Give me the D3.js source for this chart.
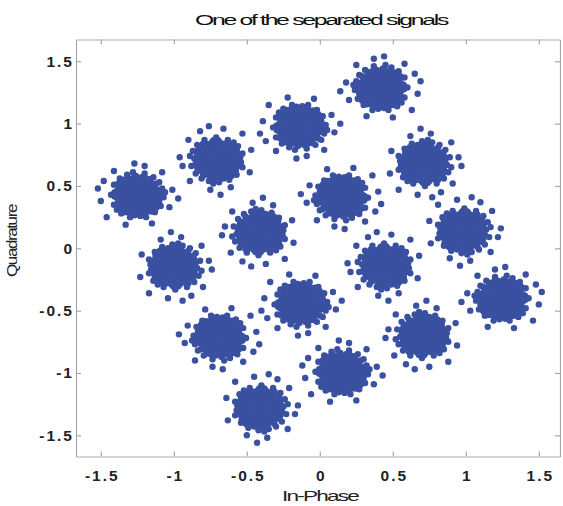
<!DOCTYPE html>
<html>
<head>
<meta charset="utf-8">
<script src="https://cdn.jsdelivr.net/npm/d3@7"></script>
<style>
  html, body { margin: 0; padding: 0; background: #fff; }
  svg { display: block; }
</style>
</head>
<body>
<svg id="chart" width="563" height="506"></svg>
<script>
// Received symbol clusters: centre of each cluster (in-phase, quadrature)
const clusterI = [0.42, -0.14, -0.70, 0.71, -1.25, 0.15, -0.41, 0.98, -1.00, 0.45, -0.13, 1.25, -0.685, 0.71, 0.15, -0.41];
const clusterQ = [1.28, 0.98, 0.71, 0.68, 0.42, 0.415, 0.125, 0.14, -0.15, -0.14, -0.44, -0.41, -0.71, -0.70, -1.00, -1.28];
// orientation of the shared noise pattern for each cluster (bit0 mirror I, bit1 mirror Q, bit2 swap)
const clusterOrient = [0, 3, 5, 6, 1, 2, 7, 4, 6, 5, 3, 0, 2, 7, 1, 4];

// Noise samples around a cluster centre (I offset, Q offset)
const noiseI = [
  -0.03, 0.01, 0.05,
  -0.08, -0.04, 0.00, 0.04, 0.08,
  -0.11, -0.075, -0.04, -0.005, 0.03, 0.065, 0.10,
  -0.135, -0.10, -0.065, -0.03, 0.005, 0.04, 0.075, 0.11, 0.14,
  -0.15, -0.115, -0.08, -0.045, -0.01, 0.025, 0.06, 0.095, 0.13,
  -0.14, -0.105, -0.07, -0.035, 0.00, 0.035, 0.07, 0.105, 0.14,
  -0.13, -0.095, -0.06, -0.025, 0.01, 0.045, 0.08, 0.115,
  -0.11, -0.075, -0.04, -0.005, 0.03, 0.065, 0.10,
  -0.07, -0.035, 0.00, 0.035, 0.07,
  -0.02, 0.02,
  -0.06, -0.015, 0.03, 0.07,
  -0.095, -0.055, -0.02, 0.015, 0.05, 0.085, 0.12,
  -0.12, -0.085, -0.05, -0.015, 0.02, 0.055, 0.09, 0.125,
  -0.16, -0.12, -0.085, -0.05, -0.015, 0.02, 0.055, 0.09, 0.125, 0.155,
  -0.16, -0.125, -0.09, -0.055, -0.02, 0.015, 0.05, 0.085, 0.12, 0.155,
  -0.15, -0.115, -0.08, -0.045, -0.01, 0.025, 0.06, 0.095, 0.13,
  -0.125, -0.09, -0.055, -0.02, 0.015, 0.05, 0.085, 0.12,
  -0.09, -0.055, -0.02, 0.015, 0.05, 0.085,
  -0.05, -0.015, 0.02, 0.055,
  0.13, -0.13, 0.125, -0.13, 0.09, -0.09, 0.09, -0.095,
  -0.17, -0.18, -0.16, -0.12, -0.06, 0.05, 0.11, 0.16, 0.18, 0.16, 0.12, 0.07, -0.05, -0.11, -0.15, 0.14, -0.19, 0.03,
  -0.24, -0.22, 0.23, 0.25, 0.08, -0.10, 0.16, -0.17, 0.21, 0.02, -0.28, 0.27, -0.05
];
const noiseQ = [
  0.15, 0.16, 0.14,
  0.12, 0.125, 0.115, 0.12, 0.11,
  0.09, 0.08, 0.09, 0.085, 0.08, 0.09, 0.085,
  0.05, 0.055, 0.045, 0.05, 0.055, 0.045, 0.05, 0.055, 0.04,
  0.02, 0.01, 0.02, 0.015, 0.01, 0.02, 0.015, 0.01, 0.02,
  -0.025, -0.02, -0.015, -0.025, -0.02, -0.015, -0.025, -0.02, -0.015,
  -0.06, -0.05, -0.055, -0.06, -0.05, -0.055, -0.06, -0.05,
  -0.09, -0.095, -0.085, -0.09, -0.095, -0.085, -0.09,
  -0.125, -0.13, -0.12, -0.125, -0.13,
  -0.16, -0.155,
  0.14, 0.13, 0.14, 0.135,
  0.10, 0.105, 0.095, 0.10, 0.105, 0.10, 0.095,
  0.065, 0.07, 0.06, 0.065, 0.07, 0.06, 0.065, 0.07,
  0.03, 0.035, 0.025, 0.03, 0.035, 0.025, 0.03, 0.035, 0.025, 0.03,
  -0.005, 0.00, -0.01, -0.005, 0.00, -0.01, -0.005, 0.00, -0.01, -0.005,
  -0.04, -0.035, -0.045, -0.04, -0.035, -0.045, -0.04, -0.035, -0.045,
  -0.075, -0.07, -0.08, -0.075, -0.07, -0.08, -0.075, -0.07,
  -0.11, -0.105, -0.115, -0.11, -0.105, -0.115,
  -0.14, -0.145, -0.14, -0.135,
  0.10, 0.10, -0.10, -0.095, 0.13, 0.135, -0.13, -0.125,
  0.06, -0.01, -0.08, -0.13, -0.17, -0.17, -0.14, -0.07, 0.01, 0.09, 0.14, 0.17, 0.18, 0.15, 0.11, -0.11, 0.03, 0.19,
  0.05, -0.09, 0.12, -0.04, -0.23, -0.22, 0.20, 0.19, -0.17, 0.26, -0.02, 0.06, 0.24
];

const xTicks = [-1.5, -1, -0.5, 0, 0.5, 1, 1.5];
const xTickLabels = ["-1.5", "-1", "-0.5", "0", "0.5", "1", "1.5"];
const yTicks = [-1.5, -1, -0.5, 0, 0.5, 1, 1.5];
const yTickLabels = ["-1.5", "-1", "-0.5", "0", "0.5", "1", "1.5"];

const titleText = "One of the separated signals";
const xLabelText = "In-Phase";
const yLabelText = "Quadrature";

// Build the sample table
const samples = [];
clusterI.forEach((ci, k) => {
  const o = clusterOrient[k];
  noiseI.forEach((ni, j) => {
    let a = ni, b = noiseQ[j];
    if (o & 4) { const t = a; a = b; b = t; }
    if (o & 1) a = -a;
    if (o & 2) b = -b;
    samples.push({ i: ci + a, q: clusterQ[k] + b });
  });
});

const svg = d3.select("#chart");
const plotLeft = 76, plotRight = 560, plotTop = 39.5, plotBottom = 456.5;

const x = d3.scaleLinear().domain([-1.67, 1.645]).range([plotLeft, plotRight]);
const y = d3.scaleLinear().domain([-1.67, 1.675]).range([plotBottom, plotTop]);

const axisColor = "#a9a9a9";
const dotColor = "#3a50a0";

// markers
svg.append("g")
  .selectAll("circle")
  .data(samples)
  .join("circle")
  .attr("cx", d => x(d.i))
  .attr("cy", d => y(d.q))
  .attr("r", 3.2)
  .attr("fill", dotColor);

// box + ticks
const tickFont = "'Liberation Sans', Arial, sans-serif";

const gx = svg.append("g").attr("transform", `translate(0,${plotBottom})`)
  .call(d3.axisBottom(x).tickValues(xTicks).tickFormat((d, i) => xTickLabels[i])
    .tickSizeInner(-5).tickSizeOuter(0).tickPadding(13));
const gy = svg.append("g").attr("transform", `translate(${plotLeft},0)`)
  .call(d3.axisLeft(y).tickValues(yTicks).tickFormat((d, i) => yTickLabels[i])
    .tickSizeInner(-5).tickSizeOuter(0).tickPadding(2));
const gt = svg.append("g").attr("transform", `translate(0,${plotTop})`)
  .call(d3.axisTop(x).tickValues(xTicks).tickFormat("").tickSizeInner(-5).tickSizeOuter(0));
const gr = svg.append("g").attr("transform", `translate(${plotRight},0)`)
  .call(d3.axisRight(y).tickValues(yTicks).tickFormat("").tickSizeInner(-5).tickSizeOuter(0));

[gx, gy, gt, gr].forEach(g => {
  g.select(".domain").attr("stroke", axisColor).attr("stroke-width", 1.2);
  g.selectAll(".tick line").attr("stroke", axisColor).attr("stroke-width", 1.2);
  g.selectAll(".tick text")
    .attr("font-family", tickFont)
    .attr("font-size", 15.5)
    .attr("font-weight", "bold")
    .attr("letter-spacing", "2px")
    .attr("fill", "#222");
});
gx.selectAll(".tick text").attr("dx", 1);

// title and axis labels: tightly set glyphs stretched to the line length
svg.append("text")
  .attr("x", 321).attr("y", 25)
  .attr("text-anchor", "middle")
  .attr("font-family", tickFont).attr("font-size", 14)
  .attr("letter-spacing", "-1.3px")
  .attr("textLength", 252).attr("lengthAdjust", "spacingAndGlyphs")
  .attr("fill", "#111")
  .text(titleText);

svg.append("text")
  .attr("x", 320).attr("y", 501)
  .attr("text-anchor", "middle")
  .attr("font-family", tickFont).attr("font-size", 15)
  .attr("letter-spacing", "-1.2px")
  .attr("textLength", 76).attr("lengthAdjust", "spacingAndGlyphs")
  .attr("fill", "#222")
  .text(xLabelText);

svg.append("text")
  .attr("transform", "translate(17,241) rotate(-90)")
  .attr("text-anchor", "middle")
  .attr("font-family", tickFont).attr("font-size", 14.5)
  .attr("letter-spacing", "-1.2px")
  .attr("textLength", 72).attr("lengthAdjust", "spacingAndGlyphs")
  .attr("fill", "#222")
  .text(yLabelText);
</script>
</body>
</html>
